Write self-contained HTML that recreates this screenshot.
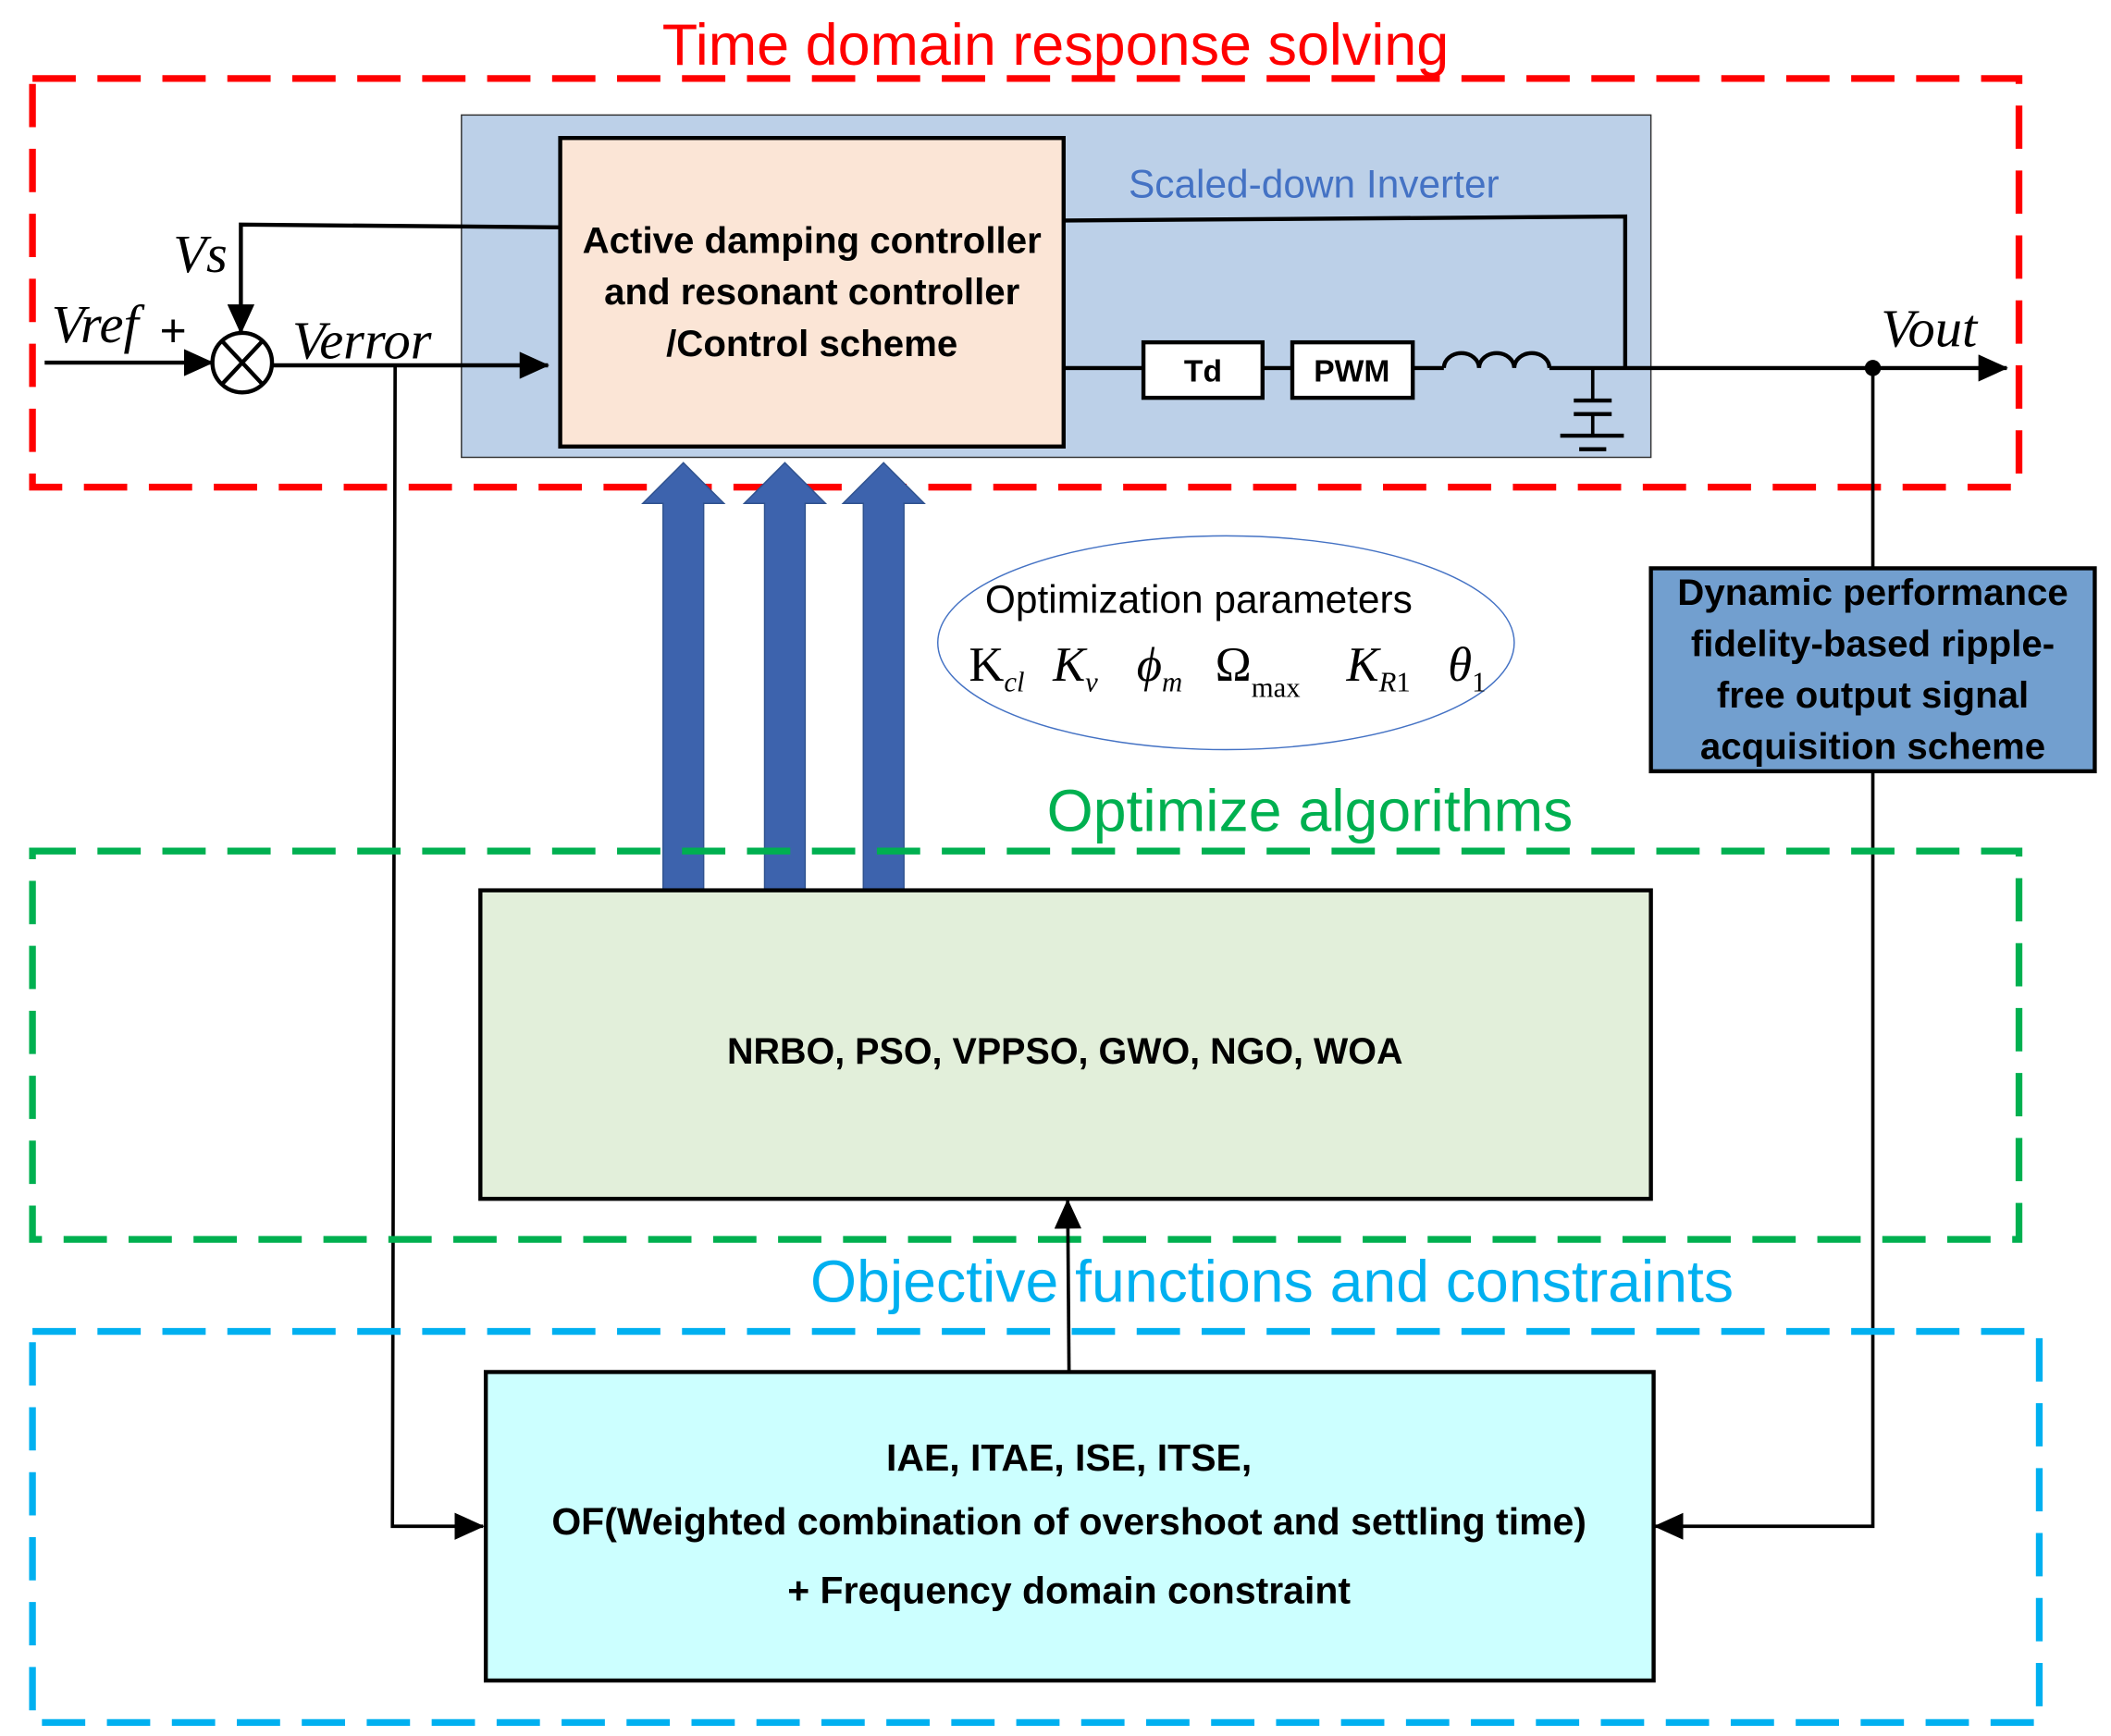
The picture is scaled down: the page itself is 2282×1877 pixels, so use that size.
<!DOCTYPE html>
<html><head><meta charset="utf-8"><style>html,body{margin:0;padding:0;background:#fff}svg{display:block}</style></head>
<body>
<svg width="2282" height="1877" viewBox="0 0 1560 1283" preserveAspectRatio="none" xmlns="http://www.w3.org/2000/svg" font-family="Liberation Sans, sans-serif">
<defs>
<marker id="ahb" markerWidth="22" markerHeight="20" refX="21" refY="10" orient="auto" markerUnits="userSpaceOnUse" viewBox="0 0 22 20"><path d="M0,0 L22,10 L0,20 z" fill="#000"/></marker>
</defs>
<!-- red dashed -->
<rect x="24" y="58" width="1468" height="302" fill="none" stroke="#ff0000" stroke-width="5" stroke-dasharray="32,16"/>
<text x="780" y="48" text-anchor="middle" font-size="43" fill="#ff0000">Time domain response solving</text>
<!-- blue panel -->
<rect x="341" y="85" width="879" height="253" fill="#bcd0e8" stroke="#333" stroke-width="1"/>
<rect x="414" y="102" width="372" height="228" fill="#fbe5d6" stroke="#000" stroke-width="3"/>
<g font-weight="bold" font-size="27.5" text-anchor="middle">
<text x="600" y="187">Active damping controller</text>
<text x="600" y="225">and resonant controller</text>
<text x="600" y="263">/Control scheme</text>
</g>
<text x="834" y="146" font-size="29" fill="#4472c4">Scaled-down Inverter</text>
<!-- feedback -->
<polyline points="414,168 178,166 178,246" fill="none" stroke="#000" stroke-width="3" marker-end="url(#ahb)"/>
<polyline points="786,163 1201,160 1201,272" fill="none" stroke="#000" stroke-width="3"/>
<circle cx="179" cy="268" r="22" fill="#fff" stroke="#000" stroke-width="3"/>
<line x1="164" y1="252" x2="194" y2="284" stroke="#000" stroke-width="3"/>
<line x1="194" y1="252" x2="164" y2="284" stroke="#000" stroke-width="3"/>
<line x1="33" y1="268" x2="157" y2="268" stroke="#000" stroke-width="3" marker-end="url(#ahb)"/>
<line x1="201" y1="270" x2="405" y2="270" stroke="#000" stroke-width="3" marker-end="url(#ahb)"/>
<g font-family="Liberation Serif, serif" font-style="italic" font-size="40">
<text x="128" y="201">Vs</text>
<text x="38" y="253">Vref</text>
<text x="216" y="265">Verror</text>
<text x="1390" y="256">Vout</text>
</g>
<text x="118" y="256" font-size="34">+</text>
<!-- left vertical -->
<polyline points="292,270 290,1128 357,1128" fill="none" stroke="#000" stroke-width="2.5" marker-end="url(#ahb)"/>
<!-- output path -->
<line x1="786" y1="272" x2="845" y2="272" stroke="#000" stroke-width="3"/>
<rect x="845" y="253" width="88" height="41" fill="#fff" stroke="#000" stroke-width="3"/>
<text x="889" y="282" text-anchor="middle" font-weight="bold" font-size="23">Td</text>
<line x1="933" y1="272" x2="955" y2="272" stroke="#000" stroke-width="3"/>
<rect x="955" y="253" width="89" height="41" fill="#fff" stroke="#000" stroke-width="3"/>
<text x="999" y="282" text-anchor="middle" font-weight="bold" font-size="23">PWM</text>
<line x1="1044" y1="272" x2="1067" y2="272" stroke="#000" stroke-width="3"/>
<path d="M1067,272 a13,11 0 0 1 26,0 a13,11 0 0 1 26,0 a13,11 0 0 1 26,0" fill="none" stroke="#000" stroke-width="3"/>
<line x1="1145" y1="272" x2="1483" y2="272" stroke="#000" stroke-width="3" marker-end="url(#ahb)"/>
<line x1="1177" y1="272" x2="1177" y2="295" stroke="#000" stroke-width="2.5"/>
<line x1="1163" y1="296" x2="1191" y2="296" stroke="#000" stroke-width="3"/>
<line x1="1163" y1="306" x2="1191" y2="306" stroke="#000" stroke-width="3"/>
<line x1="1177" y1="306" x2="1177" y2="322" stroke="#000" stroke-width="2.5"/>
<line x1="1153" y1="322" x2="1200" y2="322" stroke="#000" stroke-width="3"/>
<line x1="1167" y1="332" x2="1187" y2="332" stroke="#000" stroke-width="3"/>
<circle cx="1384" cy="272" r="6" fill="#000"/>
<line x1="1384" y1="272" x2="1384" y2="420" stroke="#000" stroke-width="2.5"/>
<rect x="1220" y="420" width="328" height="150" fill="#729fcf" stroke="#000" stroke-width="3"/>
<g font-weight="bold" font-size="27.5" text-anchor="middle">
<text x="1384" y="447">Dynamic performance</text>
<text x="1384" y="485">fidelity-based ripple-</text>
<text x="1384" y="523">free output signal</text>
<text x="1384" y="561">acquisition scheme</text>
</g>
<polyline points="1384,570 1384,1128 1223,1128" fill="none" stroke="#000" stroke-width="2.5" marker-end="url(#ahb)"/>
<!-- big arrows -->
<g fill="#3d63ad" stroke="#2f528f" stroke-width="1">
<path d="M490,658 L490,372 L475,372 L505,342 L535,372 L520,372 L520,658 z"/>
<path d="M565,658 L565,372 L550,372 L580,342 L610,372 L595,372 L595,658 z"/>
<path d="M638,658 L638,372 L623,372 L653,342 L683,372 L668,372 L668,658 z"/>
</g>
<!-- ellipse -->
<ellipse cx="906" cy="475" rx="213" ry="79" fill="#fff" stroke="#4472c4" stroke-width="1"/>
<text x="728" y="453" font-size="29">Optimization parameters</text>
<g font-family="Liberation Serif, serif" font-size="36">
<text x="716" y="503">K<tspan font-size="21" font-style="italic" dy="8">cl</tspan></text>
<text x="778" y="503" font-style="italic">K<tspan font-size="21" dy="8">v</tspan></text>
<text x="840" y="503" font-style="italic">ϕ<tspan font-size="21" dy="8">m</tspan></text>
<text x="898" y="503">Ω<tspan font-size="21" dy="12">max</tspan></text>
<text x="995" y="503" font-style="italic">K<tspan font-size="21" dy="8">R</tspan><tspan font-size="21" font-style="normal">1</tspan></text>
<text x="1070" y="503" font-style="italic">θ<tspan font-size="21" font-style="normal" dy="8">1</tspan></text>
</g>
<!-- green -->
<text x="968" y="614" text-anchor="middle" font-size="44" fill="#00b050">Optimize algorithms</text>
<rect x="24" y="629" width="1468" height="287" fill="none" stroke="#00b050" stroke-width="5" stroke-dasharray="32,16"/>
<rect x="355" y="658" width="865" height="228" fill="#e2efda" stroke="#000" stroke-width="3"/>
<text x="787" y="786" text-anchor="middle" font-weight="bold" font-size="27">NRBO, PSO, VPPSO, GWO, NGO, WOA</text>
<line x1="790" y1="1014" x2="789" y2="887" stroke="#000" stroke-width="2.5" marker-end="url(#ahb)"/>
<!-- cyan -->
<text x="940" y="962" text-anchor="middle" font-size="44" fill="#00b0f0">Objective functions and constraints</text>
<rect x="24" y="984" width="1483" height="289" fill="none" stroke="#00b0f0" stroke-width="5" stroke-dasharray="32,16"/>
<rect x="359" y="1014" width="863" height="228" fill="#ccffff" stroke="#000" stroke-width="3"/>
<g font-weight="bold" font-size="28" text-anchor="middle">
<text x="790" y="1087">IAE, ITAE, ISE, ITSE,</text>
<text x="790" y="1134">OF(Weighted combination of overshoot and settling time)</text>
<text x="790" y="1185">+ Frequency domain constraint</text>
</g>
</svg>
</body></html>
